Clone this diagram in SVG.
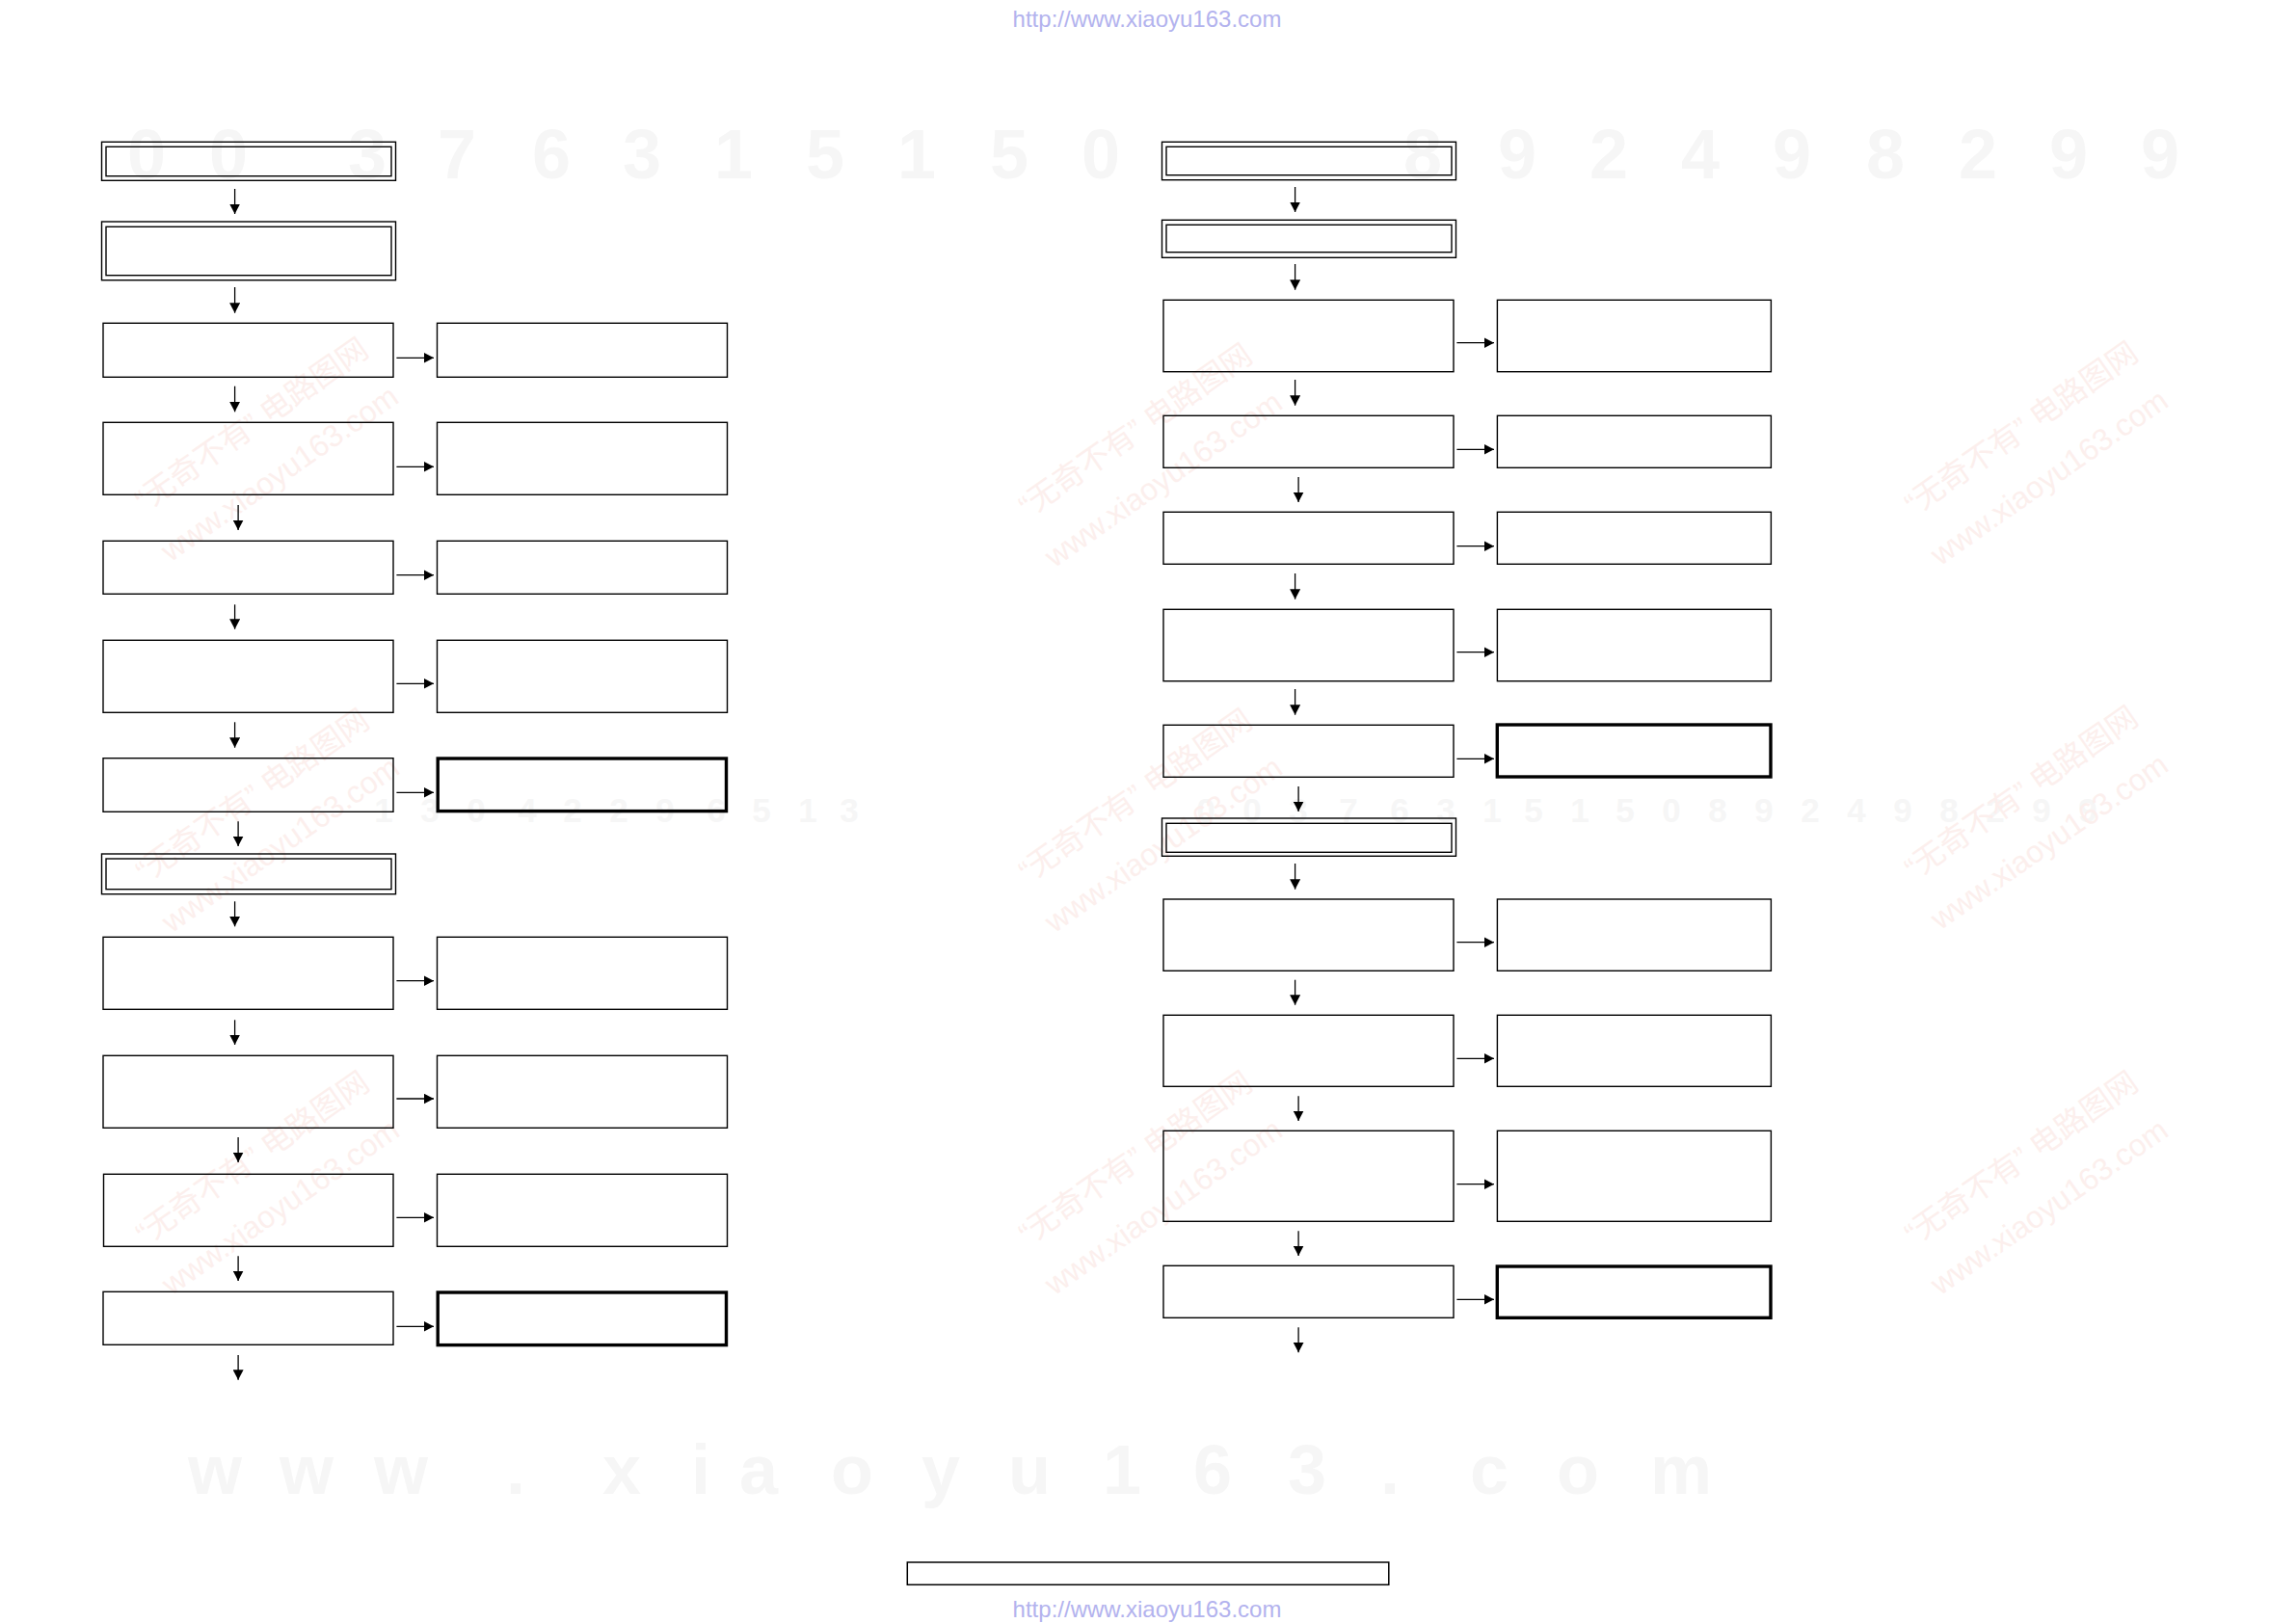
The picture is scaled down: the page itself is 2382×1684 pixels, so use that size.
<svg xmlns="http://www.w3.org/2000/svg" width="2382" height="1684" viewBox="0 0 2382 1684">
<style>
.bx{fill:none;stroke:#000;stroke-width:1.4}
.tk{fill:none;stroke:#000;stroke-width:3.4}
.cn line{stroke:#000;stroke-width:1.3;marker-end:url(#ah)}
.url{font-family:"Liberation Sans",Arial,sans-serif;font-size:24px;fill:#b3b3ee;text-anchor:middle}
.wmd{font-family:"Liberation Sans",Arial,sans-serif;font-weight:bold;fill:#f6f6f6;text-anchor:middle}
.wmc{font-family:"Liberation Sans","Noto Sans CJK SC",sans-serif;font-size:32px;fill:#fcefed}
</style>
<defs>
<marker id="ah" markerWidth="11" markerHeight="11" refX="10.5" refY="5.5" orient="auto" markerUnits="userSpaceOnUse">
<path d="M0,0 L10.5,5.5 L0,11 Z" fill="#000"/>
</marker>
<g id="wm" class="wmc" transform="rotate(-35)">
<text x="-140" y="-18">“无奇不有”  电路图网</text>
<text x="-148" y="40">www.xiaoyu163.com</text>
</g>
</defs>
<rect width="2382" height="1684" fill="#fff"/>
<g id="watermarks">
<text class="wmd" font-size="72" y="185" x="152 237 381 474 572 666 761 856 951 1047 1142 1476 1574 1669 1764 1859 1956 2052 2146 2241">00376315150892498299</text>
<text class="wmd" font-size="35" y="853" x="398 446 494 547 594 642 690 743 790 838 881">13042296513</text>
<text class="wmd" font-size="35" y="853" x="1251 1299 1347 1399 1452 1500 1548 1591 1639 1686 1734 1782 1830 1878 1926 1974 2022 2070 2118 2166">00376315150892498299</text>
<text class="wmd" font-size="72" y="1550" fill="#f6f6f6" x="223 318 416 535 645 727 787 884 976 1068 1164 1258 1356 1442 1545 1637 1744">www.xiaoyu163.com</text>
<use href="#wm" transform="translate(275 466)"/>
<use href="#wm" transform="translate(1192 472)"/>
<use href="#wm" transform="translate(2111 470)"/>
<use href="#wm" transform="translate(276 851)"/>
<use href="#wm" transform="translate(1192 851)"/>
<use href="#wm" transform="translate(2111 848)"/>
<use href="#wm" transform="translate(276 1227)"/>
<use href="#wm" transform="translate(1192 1227)"/>
<use href="#wm" transform="translate(2111 1227)"/>
</g>
<text class="url" x="1190" y="28">http://www.xiaoyu163.com</text>
<text class="url" x="1190" y="1678">http://www.xiaoyu163.com</text>

<!-- Left column -->
<g id="L1"><rect class="bx" x="105.5" y="147.3" width="305" height="40"/><rect class="bx" x="110" y="152.3" width="296" height="30.4"/></g>
<g id="L2"><rect class="bx" x="105.5" y="230" width="305" height="60.7"/><rect class="bx" x="110" y="235.3" width="296" height="50.4"/></g>
<g id="L3"><rect class="bx" x="107" y="335.3" width="301" height="56"/></g>
<g id="L3r"><rect class="bx" x="453.5" y="335.3" width="301" height="56"/></g>
<g id="L4"><rect class="bx" x="107" y="438.3" width="301" height="75"/></g>
<g id="L4r"><rect class="bx" x="453.5" y="438.3" width="301" height="75"/></g>
<g id="L5"><rect class="bx" x="107" y="561.3" width="301" height="55"/></g>
<g id="L5r"><rect class="bx" x="453.5" y="561.3" width="301" height="55"/></g>
<g id="L6"><rect class="bx" x="107" y="664.3" width="301" height="75"/></g>
<g id="L6r"><rect class="bx" x="453.5" y="664.3" width="301" height="75"/></g>
<g id="L7"><rect class="bx" x="107" y="786.7" width="301" height="55.6"/></g>
<g id="L7r"><rect class="tk" x="454.2" y="787" width="299.3" height="54.6"/></g>
<g id="L8"><rect class="bx" x="105.5" y="886" width="305" height="41.7"/><rect class="bx" x="110" y="891" width="296" height="31.7"/></g>
<g id="L9"><rect class="bx" x="107" y="972.3" width="301" height="75"/></g>
<g id="L9r"><rect class="bx" x="453.5" y="972.3" width="301" height="75"/></g>
<g id="L10"><rect class="bx" x="107" y="1095.3" width="301" height="75"/></g>
<g id="L10r"><rect class="bx" x="453.5" y="1095.3" width="301" height="75"/></g>
<g id="L11"><rect class="bx" x="107.5" y="1218.3" width="300.5" height="75"/></g>
<g id="L11r"><rect class="bx" x="453.5" y="1218.3" width="301" height="75"/></g>
<g id="L12"><rect class="bx" x="107" y="1340.3" width="301" height="55"/></g>
<g id="L12r"><rect class="tk" x="454.2" y="1341" width="299.3" height="54.6"/></g>

<!-- Right column -->
<g id="R1"><rect class="bx" x="1205.5" y="147.3" width="305" height="39.4"/><rect class="bx" x="1210" y="152.3" width="296" height="29.4"/></g>
<g id="R2"><rect class="bx" x="1205.5" y="228.3" width="305" height="39"/><rect class="bx" x="1210" y="233.3" width="296" height="28.4"/></g>
<g id="R3"><rect class="bx" x="1207" y="311.3" width="301" height="74.4"/></g>
<g id="R3r"><rect class="bx" x="1553.4" y="311.3" width="284" height="74.4"/></g>
<g id="R4"><rect class="bx" x="1207" y="431.3" width="301" height="54"/></g>
<g id="R4r"><rect class="bx" x="1553.4" y="431.3" width="284" height="54"/></g>
<g id="R5"><rect class="bx" x="1207" y="531.3" width="301" height="54"/></g>
<g id="R5r"><rect class="bx" x="1553.4" y="531.3" width="284" height="54"/></g>
<g id="R6"><rect class="bx" x="1207" y="632.3" width="301" height="74.4"/></g>
<g id="R6r"><rect class="bx" x="1553.4" y="632.3" width="284" height="74.4"/></g>
<g id="R7"><rect class="bx" x="1207" y="752.3" width="301" height="54"/></g>
<g id="R7r"><rect class="tk" x="1553.3" y="752" width="283.7" height="54"/></g>
<g id="R8"><rect class="bx" x="1205.5" y="849" width="305" height="39.3"/><rect class="bx" x="1210" y="854.3" width="296" height="30"/></g>
<g id="R9"><rect class="bx" x="1207" y="933" width="301" height="74.3"/></g>
<g id="R9r"><rect class="bx" x="1553.4" y="933" width="284" height="74.3"/></g>
<g id="R10"><rect class="bx" x="1207" y="1053.3" width="301" height="74"/></g>
<g id="R10r"><rect class="bx" x="1553.4" y="1053.3" width="284" height="74"/></g>
<g id="R11"><rect class="bx" x="1207" y="1173.3" width="301" height="94"/></g>
<g id="R11r"><rect class="bx" x="1553.4" y="1173.3" width="284" height="94"/></g>
<g id="R12"><rect class="bx" x="1207" y="1313.3" width="301" height="54"/></g>
<g id="R12r"><rect class="tk" x="1553.3" y="1314" width="283.7" height="53.3"/></g>

<g id="footer"><rect x="941.3" y="1621" width="499.5" height="23.3" fill="none" stroke="#000" stroke-width="1.5"/></g>

<g id="connectors" class="cn">
<line x1="243.6" y1="196" x2="243.6" y2="222"/>
<line x1="243.6" y1="298" x2="243.6" y2="324.7"/>
<line x1="243.6" y1="400.7" x2="243.6" y2="427.3"/>
<line x1="247.1" y1="524" x2="247.1" y2="550"/>
<line x1="243.6" y1="627.3" x2="243.6" y2="652.7"/>
<line x1="243.6" y1="749.3" x2="243.6" y2="775.7"/>
<line x1="247.1" y1="852.3" x2="247.1" y2="878"/>
<line x1="243.6" y1="935.3" x2="243.6" y2="961.3"/>
<line x1="243.6" y1="1058.3" x2="243.6" y2="1084"/>
<line x1="247.1" y1="1180" x2="247.1" y2="1206"/>
<line x1="247.1" y1="1303.3" x2="247.1" y2="1329"/>
<line x1="247.1" y1="1406" x2="247.1" y2="1431.7"/>
<line x1="411.4" y1="371.3" x2="450" y2="371.3"/>
<line x1="411.4" y1="484.3" x2="450" y2="484.3"/>
<line x1="411.4" y1="596.7" x2="450" y2="596.7"/>
<line x1="411.4" y1="709.3" x2="450" y2="709.3"/>
<line x1="411.4" y1="822.3" x2="450" y2="822.3"/>
<line x1="411.4" y1="1017.7" x2="450" y2="1017.7"/>
<line x1="411.4" y1="1140" x2="450" y2="1140"/>
<line x1="411.4" y1="1263.3" x2="450" y2="1263.3"/>
<line x1="411.4" y1="1376.3" x2="450" y2="1376.3"/>
<line x1="1343.6" y1="194" x2="1343.6" y2="220"/>
<line x1="1343.6" y1="274" x2="1343.6" y2="300.7"/>
<line x1="1343.6" y1="394" x2="1343.6" y2="420.7"/>
<line x1="1347.1" y1="495" x2="1347.1" y2="521"/>
<line x1="1343.6" y1="595" x2="1343.6" y2="621.7"/>
<line x1="1343.6" y1="715" x2="1343.6" y2="741.7"/>
<line x1="1347.1" y1="816" x2="1347.1" y2="842"/>
<line x1="1343.6" y1="896" x2="1343.6" y2="922.7"/>
<line x1="1343.6" y1="1016.7" x2="1343.6" y2="1042.7"/>
<line x1="1347.1" y1="1137.3" x2="1347.1" y2="1163"/>
<line x1="1347.1" y1="1277.3" x2="1347.1" y2="1303"/>
<line x1="1347.1" y1="1377.3" x2="1347.1" y2="1403.3"/>
<line x1="1511.4" y1="355.7" x2="1550" y2="355.7"/>
<line x1="1511.4" y1="466.3" x2="1550" y2="466.3"/>
<line x1="1511.4" y1="566.7" x2="1550" y2="566.7"/>
<line x1="1511.4" y1="676.7" x2="1550" y2="676.7"/>
<line x1="1511.4" y1="787.3" x2="1550" y2="787.3"/>
<line x1="1511.4" y1="977.7" x2="1550" y2="977.7"/>
<line x1="1511.4" y1="1098.3" x2="1550" y2="1098.3"/>
<line x1="1511.4" y1="1228.7" x2="1550" y2="1228.7"/>
<line x1="1511.4" y1="1348.3" x2="1550" y2="1348.3"/>
</g>
</svg>
